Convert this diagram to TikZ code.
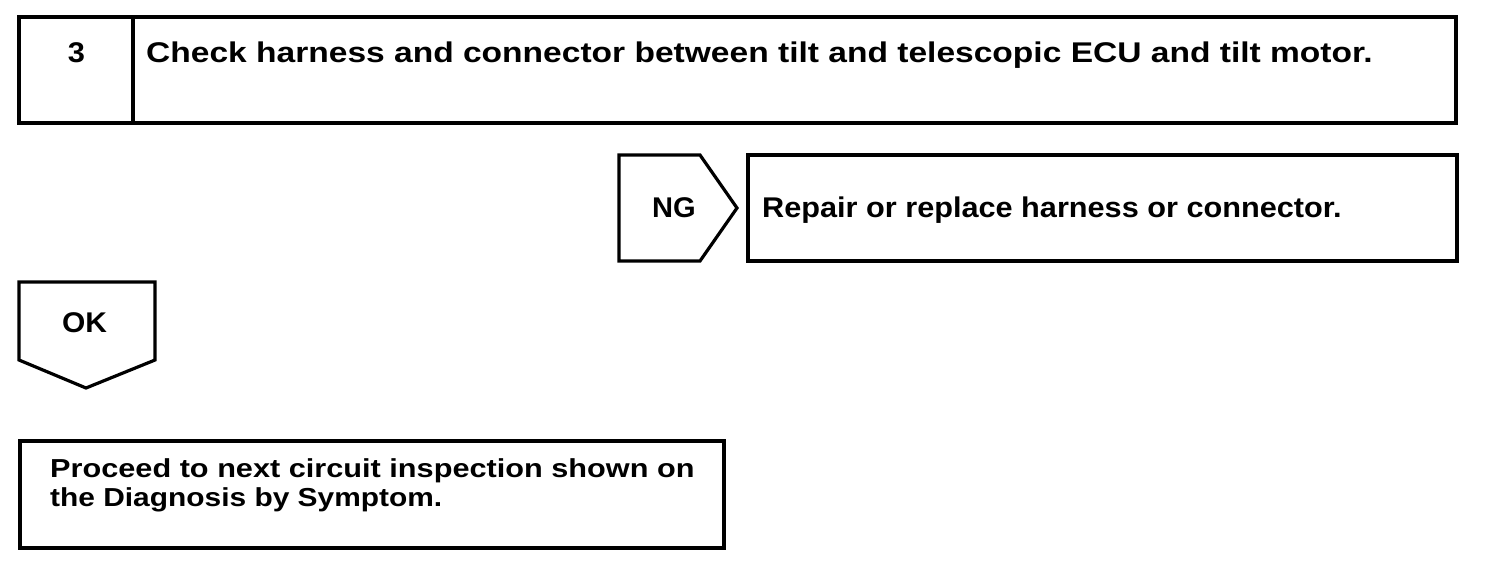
\documentclass[tikz,border=0pt]{standalone}
\usepackage{fontspec}
\usepackage{graphicx}
\setmainfont{Liberation Sans}
\begin{document}
\begin{tikzpicture}[x=1pt,y=-1pt,
  box/.style={draw,line width=3.2pt,line join=miter},
  lbl/.style={font=\fontsize{28.5}{30}\selectfont\bfseries,inner sep=0pt},
  sml/.style={font=\fontsize{26}{29}\selectfont\bfseries,inner sep=0pt},
]
\useasboundingbox (0,0) rectangle (1504,566);
% top box
\draw[box] (19,17) rectangle (1456,123);
\draw[box] (133,17) -- (133,123);
\node[lbl,anchor=base] (num) at (76.5,62) {\scalebox{1.08}[1]{3}};
\node[lbl,anchor=base west] (check) at (146,62) {\scalebox{1.177}[1]{Check harness and connector between tilt and telescopic ECU and tilt motor.}};
% NG
\draw[box] (619,155) -- (700,155) -- (737,208) -- (700,261) -- (619,261) -- cycle;
\node[lbl,anchor=base] (ng) at (674,217) {\scalebox{1.02}[1]{NG}};
\draw[box] (748,155) rectangle (1457,261);
\node[lbl,anchor=base west] (repair) at (762,217) {\scalebox{1.076}[1]{Repair or replace harness or connector.}};
% OK
\draw[box] (19,282) -- (155,282) -- (155,360) -- (86,388) -- (19,360) -- cycle;
\node[lbl,anchor=base] (ok) at (84.5,332) {\scalebox{1.05}[1]{OK}};
% bottom box
\draw[box] (20,441) rectangle (724,548);
\node[sml,anchor=base west] (proceed) at (50,477) {\scalebox{1.18}[1]{Proceed to next circuit inspection shown on}};
\node[sml,anchor=base west] (diag) at (50,506) {\scalebox{1.15}[1]{the Diagnosis by Symptom.}};
\end{tikzpicture}
\end{document}
